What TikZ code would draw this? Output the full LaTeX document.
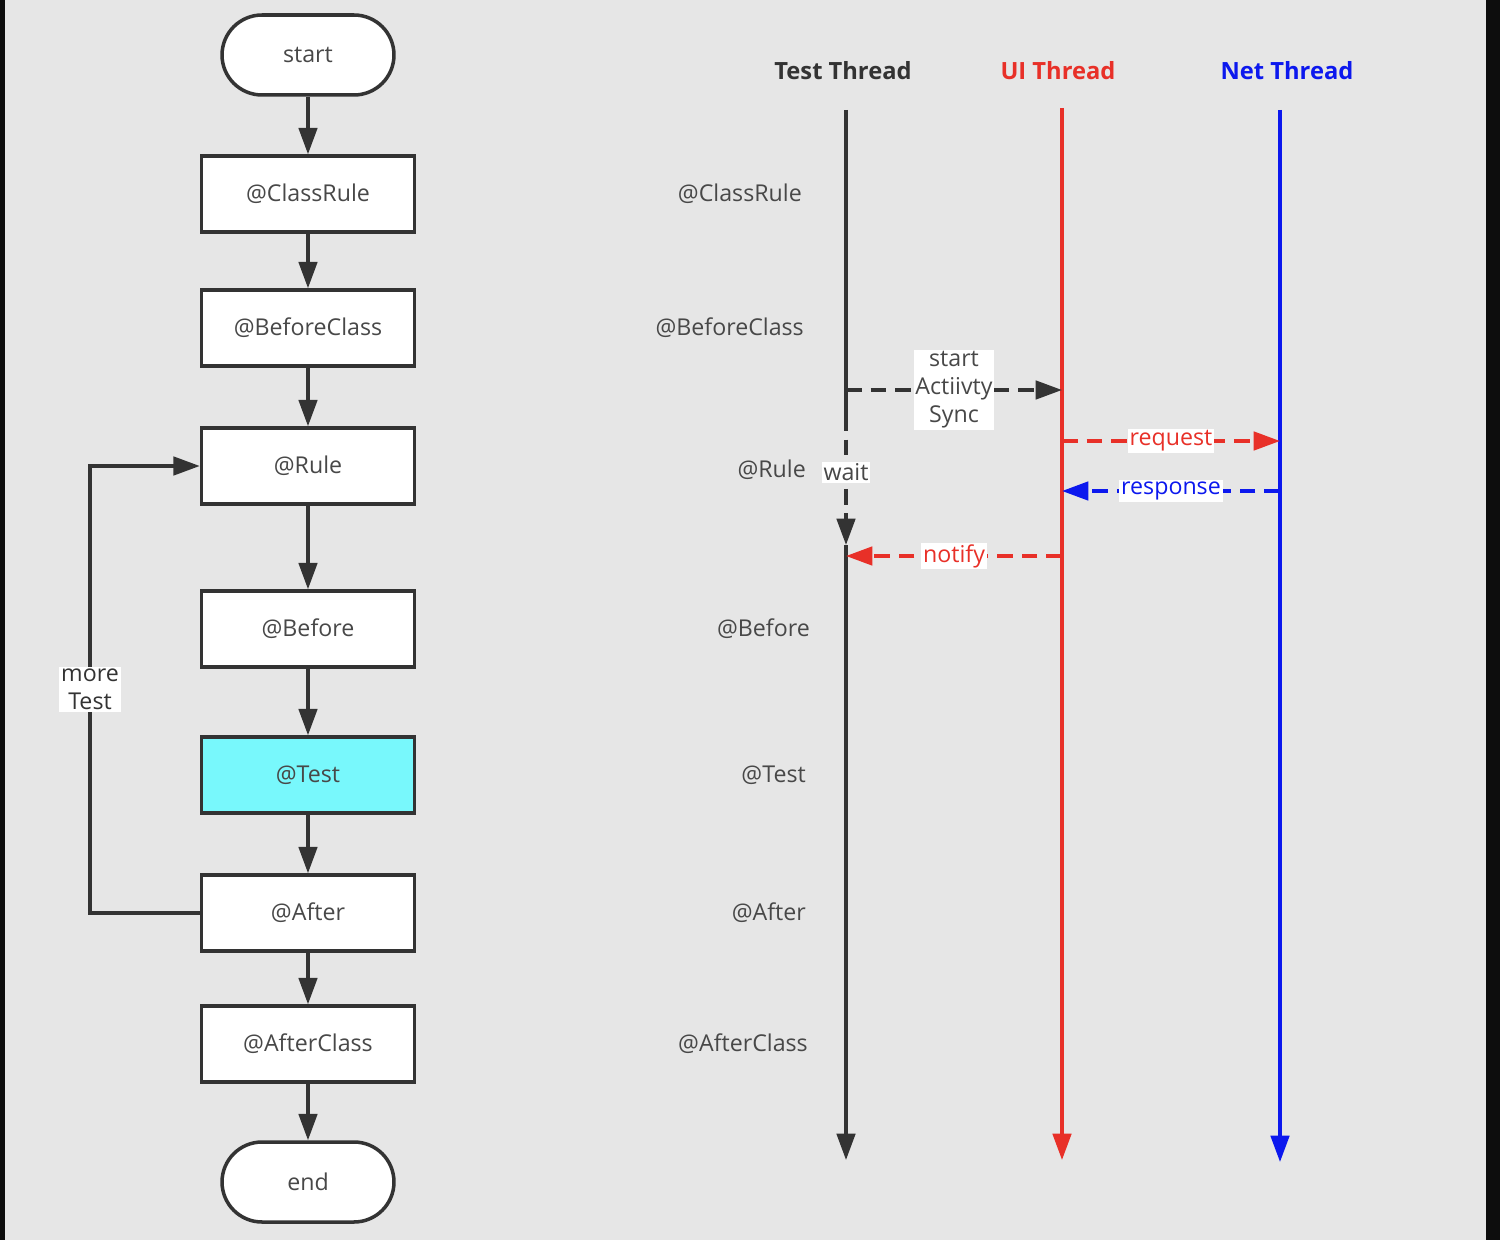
\documentclass[tikz,border=0pt]{standalone}
\usepackage{fontspec}
\setmainfont{Open Sans}
\setsansfont{Open Sans}
\usetikzlibrary{arrows.meta,positioning}
\definecolor{cbg}{RGB}{230,230,230}
\definecolor{cline}{RGB}{51,51,51}
\definecolor{ctext}{RGB}{72,72,72}
\definecolor{cui}{RGB}{232,48,40}
\definecolor{cnet}{RGB}{12,24,238}
\definecolor{ctest}{RGB}{120,248,252}

\begin{document}
\begin{tikzpicture}[x=0.02cm,y=-0.02cm,>={Triangle[length=15pt,width=10.5pt]},
  font=\sffamily\fontsize{13.2}{16}\selectfont,
  stepbox/.style={draw=cline,line width=2pt,fill=white,text=ctext,
    minimum width=4.26cm,minimum height=1.52cm},
  pill/.style={stepbox,rounded corners=0.8cm,minimum width=3.44cm,minimum height=1.6cm},
  flow/.style={->,draw=cline,line width=1.9pt},
  tag/.style={fill=white,inner sep=2pt,text=ctext},
  phase/.style={anchor=east,text=ctext},
  thread/.style={font=\sffamily\bfseries\fontsize{13.5}{16}\selectfont},
  life/.style={line width=1.9pt},
  msg/.style={->,line width=1.9pt,dash pattern=on 9pt off 5pt}]
% background and dark edges
\fill[cbg] (0,0) rectangle (1500,1240);
\fill[black!95] (0,0) rectangle (5,1240);
\fill[black!95] (1486,0) rectangle (1500,1240);
% ===================== LEFT: flow of the annotations =====================
\node[pill] (start) at (308,55) {start};
\node[stepbox] (classrule) at (308,194) {@ClassRule};
\node[stepbox] (beforeclass) at (308,328) {@BeforeClass};
\node[stepbox] (rule) at (308,466) {@Rule};
\node[stepbox] (before) at (308,629) {@Before};
\node[stepbox,fill=ctest] (test) at (308,775) {@Test};
\node[stepbox] (after) at (308,913) {@After};
\node[stepbox] (afterclass) at (308,1044) {@AfterClass};
\node[pill] (end) at (308,1182) {end};
\draw[flow] (start) -- (classrule);
\draw[flow] (classrule) -- (beforeclass);
\draw[flow] (beforeclass) -- (rule);
\draw[flow] (rule) -- (before);
\draw[flow] (before) -- (test);
\draw[flow] (test) -- (after);
\draw[flow] (after) -- (afterclass);
\draw[flow] (afterclass) -- (end);
% loop back for the next test
\coordinate (loopB) at (90,913);
\coordinate (loopT) at (90,466);
\draw[flow] (after.west) -- (loopB) -- node[tag,align=center,text=cline,inner sep=1pt]{more\\Test} (loopT) -- (rule.west);
% ===================== RIGHT: threads =====================
\node[thread,text=cline] (testT) at (843,71) {Test Thread};
\node[thread,text=cui] (uiT) at (1058,71) {UI Thread};
\node[thread,text=cnet] (netT) at (1287,71) {Net Thread};
\node[phase] (pClassRule) at (808,194) {@ClassRule};
\node[phase] (pBeforeClass) at (810,328) {@BeforeClass};
\node[phase] (pRule) at (812,470) {@Rule};
\node[phase] (pBefore) at (816,629) {@Before};
\node[phase] (pTest) at (812,775) {@Test};
\node[phase] (pAfter) at (812,913) {@After};
\node[phase] (pAfterClass) at (814,1044) {@AfterClass};
% lifelines
\coordinate (tTop) at (846,110);
\coordinate (tWait) at (846,415);
\coordinate (tWake) at (846,545);
\coordinate (tBot) at (846,1160);
\coordinate (uTop) at (1062,108);
\coordinate (uBot) at (1062,1160);
\coordinate (nTop) at (1280,110);
\coordinate (nBot) at (1280,1162);
\draw[life,cline] (tTop) -- (tWait);
\draw[msg,cline] (tWait) -- node[tag,pos=0.44,inner sep=1pt]{wait} (tWake);
\draw[life,cline,->] (tWake) -- (tBot);
\draw[life,cui,->] (uTop) -- (uBot);
\draw[life,cnet,->] (nTop) -- (nBot);
% messages
\coordinate (tAct) at (846,390);
\coordinate (uAct) at (1062,390);
\coordinate (uReq) at (1062,441);
\coordinate (nReq) at (1280,441);
\coordinate (nRes) at (1280,491);
\coordinate (uRes) at (1062,491);
\coordinate (uNot) at (1062,556);
\coordinate (tNot) at (846,556);
\draw[msg,cline] (tAct) -- node[tag,align=center,inner sep=1pt,font=\sffamily\fontsize{13.2}{16}\selectfont]{start\\Actiivty\\Sync} (uAct);
\draw[msg,cui] (uReq) -- node[tag,text=cui,inner sep=1pt]{request} (nReq);
\draw[msg,cnet] (nRes) -- node[tag,text=cnet,inner sep=1pt]{response} (uRes);
\draw[msg,cui] (uNot) -- node[tag,text=cui,inner sep=1pt]{notify} (tNot);
\end{tikzpicture}
\end{document}
